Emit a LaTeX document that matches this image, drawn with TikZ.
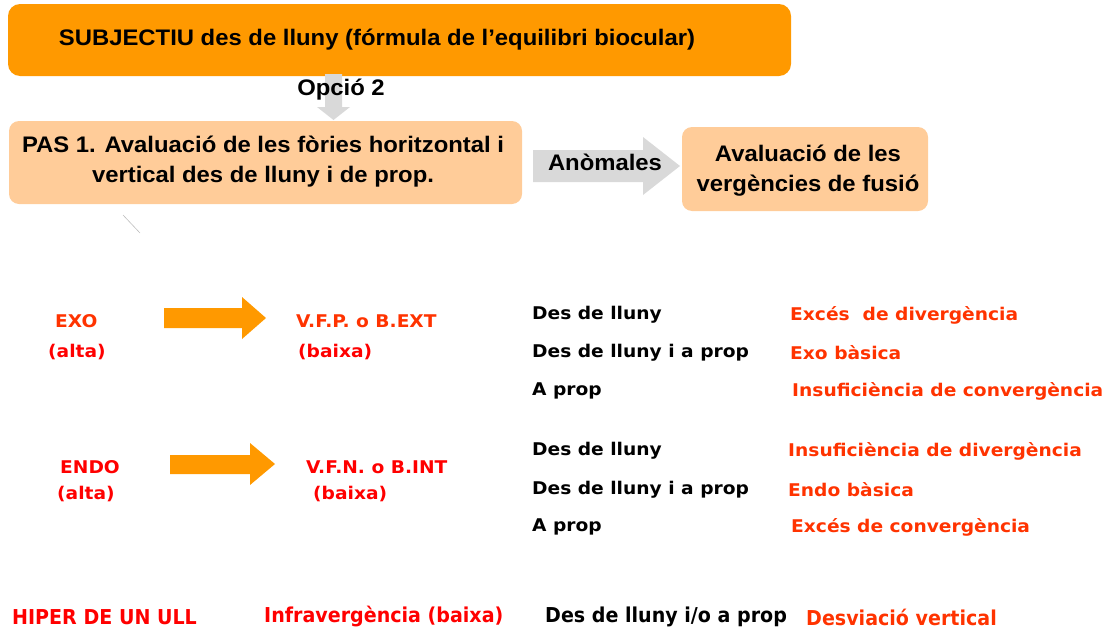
\documentclass[tikz,border=0pt]{standalone}
\usepackage{fontspec}
\setmainfont{DejaVu Sans}
\newfontfamily\arialn{Liberation Sans}[FakeStretch=1.06]
\newfontfamily\verd{DejaVu Sans}[FakeStretch=1.065]
\newfontfamily\verdc{DejaVu Sans}[FakeStretch=0.93]
\definecolor{topor}{HTML}{FF9900}
\definecolor{lightor}{HTML}{FFCC99}
\definecolor{agray}{HTML}{D9D9D9}
\definecolor{ored}{HTML}{FF3300}
\definecolor{rred}{HTML}{FF0000}
\tikzset{
  topbox/.style={fill=topor, rounded corners=12pt},
  pasbox/.style={fill=lightor, rounded corners=10pt},
  hdr/.style={font=\arialn\bfseries\fontsize{22.5}{27}\selectfont, align=center, inner sep=0pt},
  lbl/.style={font=\verd\bfseries\fontsize{17.5}{21}\selectfont, anchor=west, inner sep=0pt},
  redlbl/.style={lbl, text=rred},
  orlbl/.style={lbl, text=ored},
  blk/.style={lbl, text=black},
  cond/.style={font=\verdc\bfseries\fontsize{20.5}{24}\selectfont},
  grayarrow/.style={fill=agray, draw=none},
  orarrow/.style={fill=topor, draw=none},
}
\begin{document}
\begin{tikzpicture}[x=1pt,y=-1pt]
\useasboundingbox (0,0) rectangle (1113,629);
% boxes
\path[topbox] (8,4) rectangle (791,76);
\node[hdr] (top) at (377,40) {SUBJECTIU des de lluny (fórmula de l’equilibri biocular)};
\path[pasbox] (9,121) rectangle (522,204);
\node[hdr] (pas) at (263,162) {PAS 1. Avaluació de les fòries horitzontal i\\[3pt] vertical des de lluny i de prop.};
\path[pasbox] (682,127) rectangle (928,211);
\node[hdr] (fus) at (808,171) {Avaluació de les\\[3pt] vergències de fusió};
% gray arrows
\path[grayarrow] (325,74) -- (342,74) -- (342,107) -- (350,107) -- (333.5,120) -- (317,107) -- (325,107) -- cycle;
\node[hdr] (opc) at (341,90) {Opció 2};
\path[grayarrow] (533,150) -- (643,150) -- (643,137) -- (680,166) -- (643,195) -- (643,182) -- (533,182) -- cycle;
\node[hdr] (anom) at (605,162) {Anòmales};
\draw[agray!70!gray, line width=0.6pt] (123,215) -- (140,233);
% orange arrows
\path[orarrow] (164,308) -- (242,308) -- (242,297) -- (266,318) -- (242,339) -- (242,328) -- (164,328) -- cycle;
\path[orarrow] (170,455) -- (250,455) -- (250,443) -- (275,464) -- (250,485) -- (250,474) -- (170,474) -- cycle;
% EXO block
\node[orlbl] (exo) at (55,321) {EXO};
\node[redlbl] (exoa) at (48,352) {(alta)};
\node[orlbl] (vfp) at (296,321) {V.F.P. o B.EXT};
\node[redlbl] (vfpb) at (298,352) {(baixa)};
\node[blk] (d1) at (532,315) {Des de lluny};
\node[blk] (d2) at (532,353) {Des de lluny i a prop};
\node[blk] (d3) at (532,391) {A prop};
\node[orlbl] (r1) at (790,315) {Excés\ \ de divergència};
\node[orlbl] (r2) at (790,353) {Exo bàsica};
\node[orlbl] (r3) at (792,391) {Insuficiència de convergència};
% ENDO block
\node[redlbl] (endo) at (60,467) {ENDO};
\node[redlbl] (endoa) at (57,494) {(alta)};
\node[redlbl] (vfn) at (306,467) {V.F.N. o B.INT};
\node[redlbl] (vfnb) at (313,494) {(baixa)};
\node[blk] (e1) at (532,451) {Des de lluny};
\node[blk] (e2) at (532,490) {Des de lluny i a prop};
\node[blk] (e3) at (532,527) {A prop};
\node[orlbl] (s1) at (788,451) {Insuficiència de divergència};
\node[orlbl] (s2) at (788,490) {Endo bàsica};
\node[orlbl] (s3) at (791,527) {Excés de convergència};
% bottom row
\node[redlbl, cond] (hip) at (12,617) {HIPER DE UN ULL};
\node[redlbl, cond] (inf) at (264,617) {Infravergència (baixa)};
\node[blk, cond] (dv) at (545,617) {Des de lluny i/o a prop};
\node[orlbl, cond] (desv) at (806,617) {Desviació vertical};
\end{tikzpicture}
\end{document}
